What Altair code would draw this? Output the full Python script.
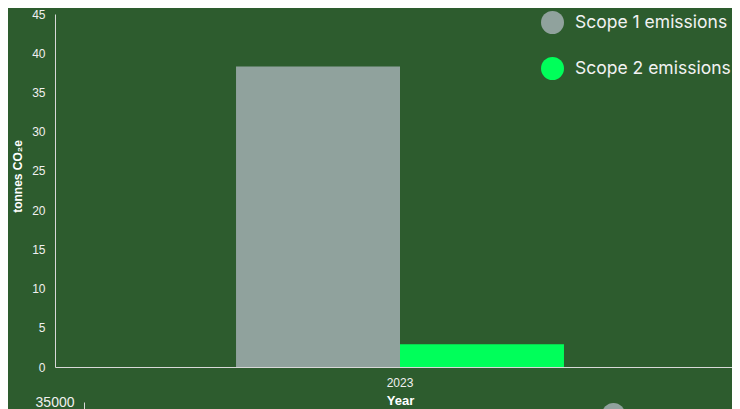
import altair as alt
import pandas as pd

years = ["2023"]
series = ["Scope 1 emissions", "Scope 2 emissions"]
values = [38.3, 2.9]
colors = ["#90a29d", "#00ff5a"]

df = pd.DataFrame({
    "Year": [years[0], years[0]],
    "Series": series,
    "Value": values,
})

BG = "#2d5c2e"
AX = "#d8d8d8"
LBL = "#f0f0f0"


def legend(x, y, size=17.5, limit=200):
    return alt.Legend(title=None, orient="none", legendX=x, legendY=y,
                      symbolType="circle", symbolSize=529, symbolOpacity=1,
                      symbolStrokeWidth=0, labelLimit=limit,
                      labelFontSize=size, labelColor="#f2f2f2", labelFont="Inter",
                      rowPadding=23, labelOffset=11)


top = alt.Chart(df).mark_bar().encode(
    x=alt.X("Year:N", title="Year",
            scale=alt.Scale(paddingInner=0, paddingOuter=0.552),
            axis=alt.Axis(labelAngle=0, ticks=False, labelPadding=10, titlePadding=6,
                          domainColor=AX, labelColor=LBL, titleColor="#ffffff",
                          labelFontSize=12, titleFontSize=13, titleFontWeight="bold")),
    xOffset=alt.XOffset("Series:N", scale=alt.Scale(paddingInner=0, paddingOuter=0)),
    y=alt.Y("Value:Q", title="tonnes CO₂e",
            scale=alt.Scale(domain=[0, 45]),
            axis=alt.Axis(values=list(range(0, 46, 5)), ticks=False, grid=False, labelPadding=10,
                          domainColor=AX, labelColor=LBL, titleColor="#ffffff", titleY=162,
                          labelFontSize=12, titleFontSize=12, titleFontWeight="bold", titlePadding=7)),
    color=alt.Color("Series:N", scale=alt.Scale(domain=series, range=colors),
                    legend=legend(486, -3)),
).properties(width=690, height=353)

bottom = alt.Chart(df).mark_bar().encode(
    x=alt.X("Year:N", title="Year",
            scale=alt.Scale(paddingInner=0, paddingOuter=0.552),
            axis=alt.Axis(labelAngle=0, ticks=False,
                          domainColor=AX, labelColor=LBL, titleColor="#ffffff")),
    xOffset=alt.XOffset("Series:N", scale=alt.Scale(paddingInner=0, paddingOuter=0)),
    y=alt.Y("Value:Q", title="kWh",
            scale=alt.Scale(domain=[0, 35000]),
            axis=alt.Axis(ticks=False, grid=False, labelPadding=10, titlePadding=6, offset=-29,
                          format="d",
                          domainColor=AX, labelColor=LBL, titleColor="#ffffff",
                          labelFontSize=14, titleFontSize=11, titleFontWeight="bold")),
    color=alt.Color("Series:N", scale=alt.Scale(domain=series, range=colors),
                    legend=legend(547, 1, 12, 90)),
).properties(width=600, height=353)

chart = alt.concat(top, bottom, columns=1, align="none", spacing=-12).resolve_legend(
    color="independent"
).configure(
    background=BG,
    font="Liberation Sans",
    padding={"top": 0, "left": 3, "right": -13, "bottom": 5},
).configure_view(stroke=None)

chart.save("out.html", embed_options={"renderer": "svg", "actions": False})
